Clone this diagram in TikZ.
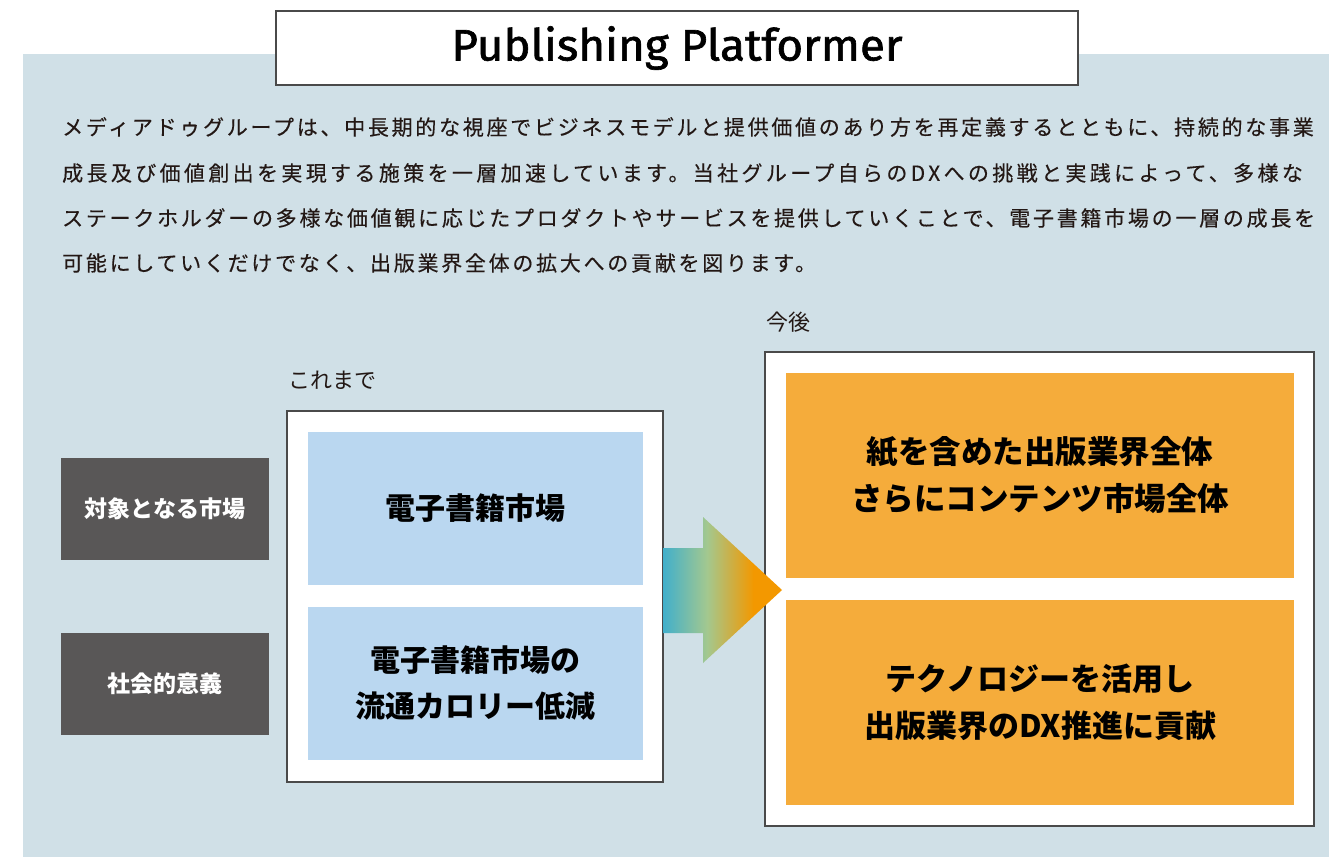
\documentclass[tikz,border=0pt]{standalone}
\usepackage{fontspec}
\setmainfont{Noto Sans CJK JP}
\newfontfamily\jplsA{Noto Sans CJK JP}[LetterSpace=13,FakeBold=0.3]
\newfontfamily\jplsB{Noto Sans CJK JP}[LetterSpace=16,FakeBold=0.3]
\newfontfamily\titlefont{Fira Sans}[FakeBold=1.4,FakeStretch=1.04]
\usetikzlibrary{calc}
\definecolor{bgc}{HTML}{D0E0E7}
\definecolor{bordc}{HTML}{4A4A4A}
\definecolor{darkc}{HTML}{595757}
\definecolor{bluec}{HTML}{BAD7F0}
\definecolor{orc}{HTML}{F5AC3B}
\definecolor{txtc}{HTML}{231815}
\definecolor{arrT}{HTML}{41AFCB}
\definecolor{arrG}{HTML}{A3C88F}
\definecolor{arrO}{HTML}{F39800}
\pgfdeclarehorizontalshading{arrowgrad}{100bp}{color(0bp)=(arrT); color(25bp)=(arrT); color(43.5bp)=(arrG); color(63bp)=(arrO); color(75bp)=(arrO); color(100bp)=(arrO)}
\begin{document}
\begin{tikzpicture}[x=1pt,y=-1pt,
  box/.style={draw=bordc, line width=1.2pt, fill=white, inner sep=0pt, outer sep=0pt, anchor=north west},
  darkbox/.style={fill=darkc, inner sep=0pt, outer sep=0pt, anchor=north west, text=white, minimum width=208, minimum height=102, font=\bfseries\fontsize{23}{23}\selectfont},
  bluebox/.style={fill=bluec, inner sep=0pt, outer sep=0pt, anchor=north west, minimum width=335, minimum height=153, align=center, text=black, font=\bfseries\fontsize{30}{46}\selectfont},
  orbox/.style={fill=orc, inner sep=0pt, outer sep=0pt, anchor=north west, minimum width=508, minimum height=205, align=center, text=black, font=\bfseries\fontsize{31.5}{47}\selectfont},
  para/.style={anchor=west, inner sep=0pt, text=txtc, font=\jplsA\fontsize{21}{21}\selectfont},
  lab/.style={anchor=west, inner sep=0pt, text=txtc, font=\fontsize{22}{22}\selectfont}
]
\useasboundingbox (0,0) rectangle (1329,857);
\fill[bgc] (23,54) rectangle (1329,857);
\node[box, minimum width=802, minimum height=74, font=\titlefont\fontsize{44}{44}\selectfont] (title) at (276,11) {Publishing Platformer};

\node[para] (p1) at (62,127) {メディアドゥグループは、中長期的な視座でビジネスモデルと提供価値のあり方を再定義するとともに、持続的な事業};
\node[para, font=\jplsB\fontsize{21}{21}\selectfont] (p2) at (62,173) {成長及び価値創出を実現する施策を一層加速しています。当社グループ自らのDXへの挑戦と実践によって、多様な};
\node[para] (p3) at (62,218) {ステークホルダーの多様な価値観に応じたプロダクトやサービスを提供していくことで、電子書籍市場の一層の成長を};
\node[para] (p4) at (62,263) {可能にしていくだけでなく、出版業界全体の拡大への貢献を図ります。};

\node[lab] (before) at (288,380) {これまで};
\node[lab] (after) at (766,322) {今後};

\node[darkbox] (d1) at (61,458) {対象となる市場};
\node[darkbox] (d2) at (61,633) {社会的意義};

\node[box, minimum width=376, minimum height=371] (mid) at (287,411) {};
\node[bluebox] (b1) at (308,432) {電子書籍市場};
\node[bluebox] (b2) at (308,607) {電子書籍市場の\\流通カロリー低減};

\node[box, minimum width=549, minimum height=474] (right) at (765,352) {};
\node[orbox] (o1) at (786,373) {紙を含めた出版業界全体\\さらにコンテンツ市場全体};
\node[orbox, font=\bfseries\fontsize{31}{47}\selectfont] (o2) at (786,600) {テクノロジーを活用し\\出版業界のDX推進に貢献};

\coordinate (tip) at (782,590);
\shade[shading=arrowgrad] (mid.east |- 0,548) -- (703,548) -- (703,517) -- (tip) -- (703,663) -- (703,633) -- (mid.east |- 0,633) -- cycle;
\end{tikzpicture}
\end{document}
